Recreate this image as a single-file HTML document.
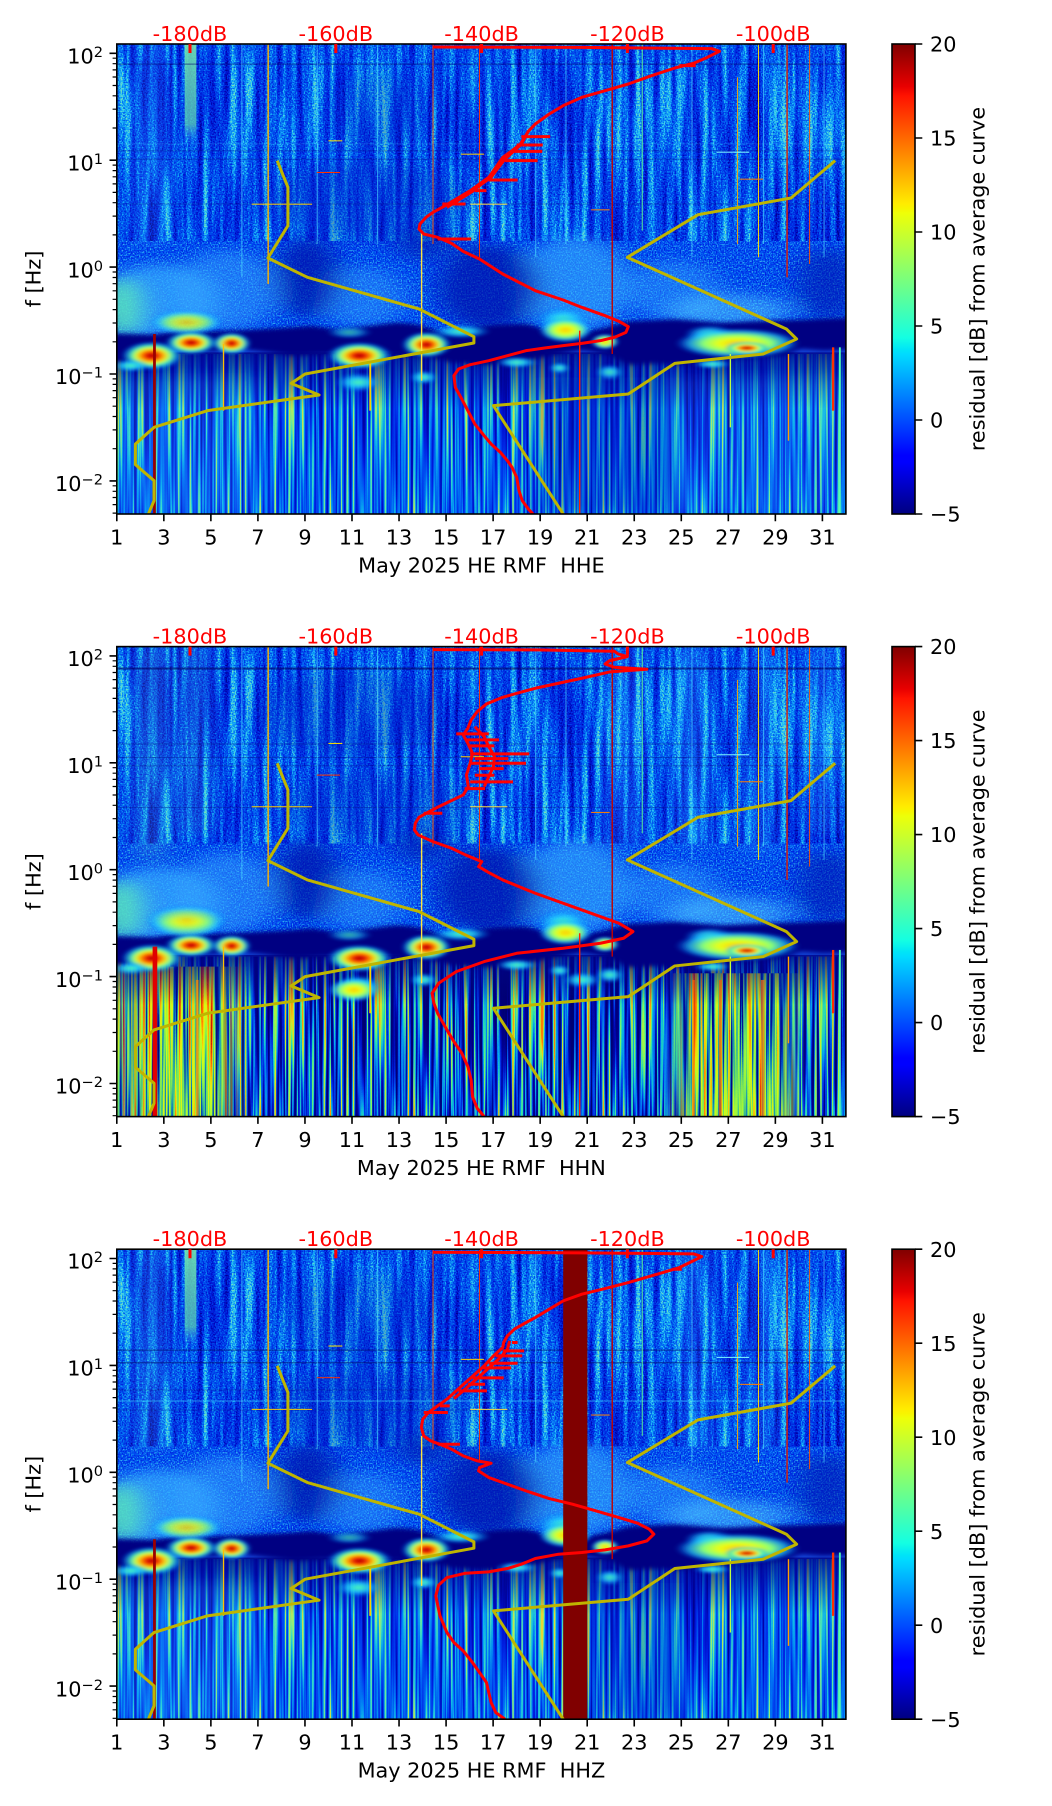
<!DOCTYPE html>
<html><head><meta charset="utf-8">
<style>html,body{margin:0;padding:0;background:#fff;}svg{display:block}</style>
</head><body>
<svg xmlns="http://www.w3.org/2000/svg" xmlns:xlink="http://www.w3.org/1999/xlink" width="1052" height="1806" viewBox="0 0 1052 1806" font-family="'DejaVu Sans','Liberation Sans',sans-serif" font-size="20.8">
<defs>
<linearGradient id="jet" x1="0" y1="1" x2="0" y2="0">
<stop offset="0" stop-color="#000080"/><stop offset="0.11" stop-color="#0000ff"/><stop offset="0.125" stop-color="#0000ff"/>
<stop offset="0.34" stop-color="#00dbff"/><stop offset="0.35" stop-color="#00e5f7"/><stop offset="0.375" stop-color="#14ffe2"/>
<stop offset="0.64" stop-color="#eeff08"/><stop offset="0.65" stop-color="#f7f500"/><stop offset="0.66" stop-color="#ffec00"/>
<stop offset="0.89" stop-color="#ff1300"/><stop offset="0.91" stop-color="#e80000"/><stop offset="1" stop-color="#800000"/>
</linearGradient>
<linearGradient id="gStripe" x1="0" y1="0" x2="0" y2="1">
<stop offset="0" stop-color="#78e8a8" stop-opacity=".85"/><stop offset=".8" stop-color="#60d8b0" stop-opacity=".7"/><stop offset="1" stop-color="#40c0ff" stop-opacity="0"/>
</linearGradient>
<linearGradient id="vgDark" x1="0" y1="0" x2="0" y2="1">
<stop offset="0" stop-color="#000488" stop-opacity=".8"/><stop offset=".5" stop-color="#000488" stop-opacity=".4"/><stop offset="1" stop-color="#000488" stop-opacity="0"/>
</linearGradient>
<linearGradient id="hgL" x1="0" y1="0" x2="1" y2="0">
<stop offset="0" stop-color="#fff" stop-opacity=".55"/><stop offset=".25" stop-color="#fff"/><stop offset=".75" stop-color="#fff"/><stop offset="1" stop-color="#fff" stop-opacity="0"/>
</linearGradient>
<linearGradient id="hgR" x1="0" y1="0" x2="1" y2="0">
<stop offset="0" stop-color="#fff" stop-opacity="0"/><stop offset=".2" stop-color="#fff"/><stop offset=".8" stop-color="#fff"/><stop offset="1" stop-color="#fff" stop-opacity="0"/>
</linearGradient>
<radialGradient id="gR">
<stop offset="0" stop-color="#a00000"/><stop offset=".2" stop-color="#f01800"/><stop offset=".36" stop-color="#ffa000"/>
<stop offset=".52" stop-color="#d8ff30"/><stop offset=".68" stop-color="#40ffc0" stop-opacity=".9"/>
<stop offset=".85" stop-color="#10a8ff" stop-opacity=".5"/><stop offset="1" stop-color="#0060ff" stop-opacity="0"/>
</radialGradient>
<radialGradient id="gY">
<stop offset="0" stop-color="#ffc800"/><stop offset=".3" stop-color="#e8ff18"/><stop offset=".55" stop-color="#88ff78"/>
<stop offset=".78" stop-color="#20d0ff" stop-opacity=".7"/><stop offset="1" stop-color="#0060ff" stop-opacity="0"/>
</radialGradient>
<radialGradient id="gC">
<stop offset="0" stop-color="#50ffb0"/><stop offset=".45" stop-color="#20d0ff" stop-opacity=".85"/><stop offset="1" stop-color="#0070ff" stop-opacity="0"/>
</radialGradient>

<filter id="fUp" x="0" y="0" width="1" height="1" color-interpolation-filters="sRGB">
<feTurbulence type="fractalNoise" baseFrequency="0.35 0.22" numOctaves="1" seed="3"/>
<feColorMatrix type="matrix" values="1 0 0 0 0 1 0 0 0 0 1 0 0 0 0 0 0 0 0 1" result="sp"/>
<feTurbulence type="fractalNoise" baseFrequency="0.07 0.0025" numOctaves="2" seed="8"/>
<feColorMatrix type="matrix" values="1 0 0 0 0 1 0 0 0 0 1 0 0 0 0 0 0 0 0 1" result="st"/>
<feComposite in="sp" in2="st" operator="arithmetic" k1="0" k2="1" k3="1.2" k4="-0.6"/>
<feComponentTransfer>
<feFuncR type="table" tableValues="0 0 0 0 0 0 0.02 0.05 0.12 0.3 0.5"/>
<feFuncG type="table" tableValues="0 0.02 0.06 0.13 0.21 0.3 0.42 0.58 0.74 0.84 0.88"/>
<feFuncB type="table" tableValues="0.55 0.68 0.8 0.87 0.9 0.93 0.95 0.97 0.97 0.9 0.7"/>
<feFuncA type="table" tableValues="1 1"/>
</feComponentTransfer>
</filter>
<filter id="fMid" x="0" y="0" width="1" height="1" color-interpolation-filters="sRGB">
<feTurbulence type="fractalNoise" baseFrequency="0.35 0.22" numOctaves="1" seed="5"/>
<feColorMatrix type="matrix" values="1.4 0 0 0 -0.2 1.4 0 0 0 -0.2 1.4 0 0 0 -0.2 0 0 0 0 1"/>
<feComponentTransfer>
<feFuncR type="table" tableValues="0 0 0 0 0 0 0.02 0.08 0.2 0.35 0.5"/>
<feFuncG type="table" tableValues="0.05 0.08 0.12 0.17 0.23 0.3 0.4 0.52 0.65 0.78 0.88"/>
<feFuncB type="table" tableValues="0.75 0.82 0.87 0.9 0.93 0.94 0.95 0.96 0.95 0.9 0.8"/>
</feComponentTransfer>
</filter>
<filter id="fLo" x="0" y="0" width="1" height="1" color-interpolation-filters="sRGB">
<feTurbulence type="fractalNoise" baseFrequency="0.16 0.0015" numOctaves="2" seed="11"/>
<feColorMatrix type="matrix" values="1.7 0 0 0 -0.33 1.7 0 0 0 -0.33 1.7 0 0 0 -0.33 0 0 0 0 1"/>
<feComponentTransfer>
<feFuncR type="table" tableValues="0 0 0 0 0 0 0 0.05 0.25 0.6 0.9"/>
<feFuncG type="table" tableValues="0 0.02 0.06 0.12 0.22 0.34 0.5 0.7 0.88 0.95 0.85"/>
<feFuncB type="table" tableValues="0.55 0.68 0.8 0.88 0.93 0.95 0.96 0.92 0.75 0.45 0.2"/>
</feComponentTransfer>
</filter>
<filter id="fLo2" x="0" y="0" width="1" height="1" color-interpolation-filters="sRGB">
<feTurbulence type="fractalNoise" baseFrequency="0.16 0.0015" numOctaves="2" seed="11"/>
<feColorMatrix type="matrix" values="2 0 0 0 -0.55 2 0 0 0 -0.55 2 0 0 0 -0.55 0 0 0 0 1"/>
<feComponentTransfer>
<feFuncR type="table" tableValues="0 0 0 0 0 0 0.03 0.2 0.6 0.95 1"/>
<feFuncG type="table" tableValues="0 0 0 0.03 0.15 0.4 0.7 0.9 0.98 0.85 0.5"/>
<feFuncB type="table" tableValues="0.45 0.5 0.56 0.7 0.88 0.95 0.9 0.65 0.3 0.08 0"/>
</feComponentTransfer>
</filter>
<filter id="fLo2b" x="0" y="0" width="1" height="1" color-interpolation-filters="sRGB">
<feTurbulence type="fractalNoise" baseFrequency="0.16 0.0015" numOctaves="2" seed="13"/>
<feColorMatrix type="matrix" values="2 0 0 0 -0.55 2 0 0 0 -0.55 2 0 0 0 -0.55 0 0 0 0 1"/>
<feComponentTransfer>
<feFuncR type="table" tableValues="0 0 0 0.1 0.35 0.6 0.8 0.95 1 1 0.8"/>
<feFuncG type="table" tableValues="0 0.05 0.3 0.6 0.85 0.97 1 0.9 0.65 0.35 0.1"/>
<feFuncB type="table" tableValues="0.5 0.6 0.75 0.7 0.45 0.25 0.1 0.02 0 0 0"/>
</feComponentTransfer>
</filter>
<filter id="bl1" x="-0.5" y="-0.5" width="2" height="2"><feGaussianBlur stdDeviation="28 18"/></filter>
<filter id="bl2" x="-0.1" y="-0.4" width="1.2" height="1.8"><feGaussianBlur stdDeviation="8 6"/></filter>
<filter id="bl3" x="-0.3" y="-0.3" width="1.6" height="1.6"><feGaussianBlur stdDeviation="5 4"/></filter>

<mask id="mB" maskUnits="userSpaceOnUse" x="0" y="0" width="1568" height="1410">
 <rect x="0" y="960" width="280" height="450" fill="url(#hgL)"/>
 <rect x="1180" y="980" width="300" height="430" fill="url(#hgR)"/>
</mask>

<g id="mid">
 <g filter="url(#bl1)">
  <ellipse cx="90" cy="770" rx="130" ry="110" fill="#38b0ff" opacity=".7"/>
  <ellipse cx="10" cy="790" rx="45" ry="90" fill="#60f0b0" opacity=".75"/>
  <ellipse cx="235" cy="740" rx="110" ry="120" fill="#38a8ff" opacity=".5"/>
  <ellipse cx="530" cy="760" rx="90" ry="90" fill="#38a8ff" opacity=".45"/>
  <ellipse cx="985" cy="720" rx="120" ry="140" fill="#38b0ff" opacity=".6"/>
  <ellipse cx="1200" cy="740" rx="100" ry="90" fill="#38a8ff" opacity=".45"/>
  <ellipse cx="1320" cy="800" rx="130" ry="50" fill="#50c8ff" opacity=".55"/>
  <ellipse cx="410" cy="700" rx="70" ry="120" fill="#0614a8" opacity=".7"/>
  <ellipse cx="800" cy="730" rx="110" ry="130" fill="#0614a8" opacity=".7"/>
  <ellipse cx="660" cy="600" rx="60" ry="50" fill="#0614a8" opacity=".55"/>
  <ellipse cx="1530" cy="720" rx="70" ry="110" fill="#0614a8" opacity=".55"/>
 </g>
 <polygon filter="url(#bl2)" fill="#000482" points="-40,868 80,872 130,862 200,862 280,858 360,852 420,846 470,856 520,850 600,836 640,840 700,864 760,852 820,842 880,840 930,858 1000,866 1060,848 1100,832 1200,826 1300,836 1400,830 1460,828 1608,820 1608,915 1520,920 1470,914 1440,932 1300,946 1220,960 1150,958 1100,962 1060,932 1000,918 930,935 880,948 800,962 720,955 680,940 600,934 560,925 450,930 380,935 320,924 270,914 220,920 170,924 120,916 100,928 30,952 -40,952"/>
 <g filter="url(#bl3)">
  <ellipse cx="150" cy="835" rx="80" ry="38" fill="url(#gY)" opacity=".8"/>
  <ellipse cx="740" cy="862" rx="65" ry="22" fill="url(#gC)"/>
  <ellipse cx="500" cy="865" rx="50" ry="20" fill="url(#gC)" opacity=".7"/>
  <ellipse cx="960" cy="830" rx="60" ry="45" fill="url(#gC)"/>
  <ellipse cx="1275" cy="870" rx="55" ry="28" fill="url(#gC)"/>
  <ellipse cx="75" cy="935" rx="66" ry="44" fill="url(#gR)"/>
  <ellipse cx="160" cy="896" rx="56" ry="36" fill="url(#gR)"/>
  <ellipse cx="247" cy="898" rx="42" ry="34" fill="url(#gR)"/>
  <ellipse cx="522" cy="935" rx="70" ry="42" fill="url(#gR)"/>
  <ellipse cx="666" cy="902" rx="54" ry="40" fill="url(#gR)"/>
  <ellipse cx="965" cy="858" rx="58" ry="38" fill="url(#gY)"/>
  <ellipse cx="1050" cy="893" rx="30" ry="24" fill="url(#gY)"/>
  <ellipse cx="1335" cy="898" rx="135" ry="46" fill="url(#gY)"/>
  <ellipse cx="1355" cy="912" rx="48" ry="20" fill="url(#gR)"/>
  <ellipse cx="860" cy="955" rx="45" ry="18" fill="url(#gC)"/>
  <ellipse cx="952" cy="972" rx="22" ry="18" fill="url(#gC)"/>
  <ellipse cx="520" cy="1015" rx="50" ry="30" fill="url(#gC)"/>
  <ellipse cx="660" cy="1000" rx="30" ry="22" fill="url(#gC)"/>
  <ellipse cx="30" cy="965" rx="40" ry="20" fill="url(#gC)"/>
  <ellipse cx="1060" cy="985" rx="30" ry="25" fill="url(#gC)"/>
  <ellipse cx="1280" cy="960" rx="40" ry="15" fill="url(#gC)"/>
 </g>
</g>

<g id="vlines">
 <rect x="324" y="0" width="3" height="720" fill="#ffb000"/>
 <rect x="654" y="560" width="3" height="450" fill="#ffe040"/>
 <rect x="679" y="0" width="2" height="600" fill="#ff5000"/>
 <rect x="779" y="0" width="2" height="640" fill="#ff3000"/>
 <rect x="994" y="860" width="3" height="550" fill="#ff2000"/>
 <rect x="1064" y="0" width="3" height="930" fill="#c00000"/>
 <rect x="1129" y="0" width="2" height="560" fill="#60ff90"/>
 <rect x="1334" y="100" width="2" height="500" fill="#ffa000"/>
 <rect x="1379" y="0" width="2" height="640" fill="#ffe000"/>
 <rect x="1440" y="0" width="3" height="700" fill="#e02000"/>
 <rect x="1489" y="0" width="2" height="660" fill="#ff5000"/>
 <rect x="1538" y="910" width="5" height="190" fill="#ff3000"/>
 <rect x="1553" y="910" width="4" height="500" fill="#50ffb0"/>
 <rect x="228" y="900" width="3" height="200" fill="#ffc000"/>
 <rect x="543" y="950" width="4" height="150" fill="#ffd000"/>
 <rect x="1443" y="930" width="3" height="260" fill="#ffa000"/>
 <rect x="1318" y="930" width="3" height="220" fill="#c0ff40"/>
 <g fill="#50e0ff" opacity=".7">
  <rect x="268" y="0" width="2" height="700"/><rect x="430" y="0" width="2" height="600"/>
  <rect x="560" y="0" width="2" height="600"/><rect x="900" y="0" width="2" height="640"/>
  <rect x="965" y="0" width="2" height="600"/><rect x="1236" y="0" width="2" height="640"/>
  <rect x="1390" y="0" width="2" height="600"/><rect x="1520" y="0" width="2" height="640"/>
 </g>
 <rect x="290" y="479" width="130" height="3" fill="#ffd000"/>
 <rect x="430" y="384" width="50" height="3" fill="#ff3000"/>
 <rect x="760" y="479" width="80" height="3" fill="#ffe040"/>
 <rect x="740" y="329" width="50" height="3" fill="#ffd000"/>
 <rect x="1340" y="404" width="50" height="3" fill="#ff8000"/>
 <rect x="1020" y="496" width="40" height="3" fill="#ff8000"/>
 <rect x="455" y="289" width="30" height="3" fill="#ffe000"/>
 <rect x="1290" y="323" width="70" height="3" fill="#80ffff"/>
</g>

<g id="yel" fill="none" stroke="#bfb500" stroke-width="3" stroke-linejoin="round">
 <polyline vector-effect="non-scaling-stroke" points="345,350 368,430 368,545 325,642 410,700 650,795 768,878 768,897 405,990 375,1018 435,1053 195,1100 80,1150 40,1200 40,1262 80,1310 80,1370 68,1410"/>
 <polyline vector-effect="non-scaling-stroke" points="1545,350 1450,462 1250,512 1098,640 1440,855 1462,885 1390,930 1200,958 1100,1050 810,1085 960,1410"/>
</g>

<g id="deco">
 <path stroke="#000" stroke-width="1.6" d="M116.8 470v7.3M163.84 470v7.3M210.88 470v7.3M257.92 470v7.3M304.96 470v7.3M352 470v7.3M399.04 470v7.3M446.08 470v7.3M493.12 470v7.3M540.16 470v7.3M587.2 470v7.3M634.24 470v7.3M681.28 470v7.3M728.32 470v7.3M775.36 470v7.3M822.4 470v7.3M116.8 9.3h-7.3M116.8 116.2h-7.3M116.8 223.1h-7.3M116.8 330h-7.3M116.8 436.9h-7.3"/>
 <path stroke="#000" stroke-width="1.2" d="M116.8 14.2h-4.2M116.8 19.7h-4.2M116.8 25.9h-4.2M116.8 33h-4.2M116.8 41.5h-4.2M116.8 51.8h-4.2M116.8 65.2h-4.2M116.8 84h-4.2M116.8 121.1h-4.2M116.8 126.6h-4.2M116.8 132.8h-4.2M116.8 139.9h-4.2M116.8 148.4h-4.2M116.8 158.7h-4.2M116.8 172.1h-4.2M116.8 190.9h-4.2M116.8 228h-4.2M116.8 233.5h-4.2M116.8 239.7h-4.2M116.8 246.8h-4.2M116.8 255.3h-4.2M116.8 265.6h-4.2M116.8 279h-4.2M116.8 297.8h-4.2M116.8 334.9h-4.2M116.8 340.4h-4.2M116.8 346.6h-4.2M116.8 353.7h-4.2M116.8 362.2h-4.2M116.8 372.5h-4.2M116.8 385.9h-4.2M116.8 404.7h-4.2M116.8 441.8h-4.2M116.8 447.3h-4.2M116.8 453.5h-4.2M116.8 460.6h-4.2M116.8 469.1h-4.2"/>
 <rect x="116.8" y="0" width="729.1" height="470" fill="none" stroke="#000" stroke-width="1.6"/>
 <rect x="892" y="0" width="23" height="470" fill="url(#jet)" stroke="#000" stroke-width="1.6"/>
 <path stroke="#000" stroke-width="1.6" d="M915 0h7.3M915 94h7.3M915 188h7.3M915 282h7.3M915 376h7.3M915 470h7.3"/>
 <path stroke="#ff0000" stroke-width="3" d="M190 0v9M335.8 0v9M481.6 0v9M627.4 0v9M773.2 0v9"/>
</g>
</defs>

<!-- ================= PLOT 1 ================= -->
<svg x="116.8" y="44" width="729.1" height="470" viewBox="0 0 1568 1410" preserveAspectRatio="none">
 <rect width="1568" height="1410" fill="#1446dc"/>
 <rect width="1568" height="598" filter="url(#fUp)"/>
 <rect y="592" width="1568" height="300" filter="url(#fMid)"/>
 <rect y="930" width="1568" height="480" filter="url(#fLo)"/>
 <rect y="925" width="1568" height="170" fill="url(#vgDark)"/>
 <g filter="url(#bl1)">
  <ellipse cx="540" cy="470" rx="210" ry="120" fill="#0a22c0" opacity=".35"/>
  <ellipse cx="560" cy="200" rx="100" ry="120" fill="#0a22c0" opacity=".25"/>
  <rect x="55" y="0" width="40" height="600" fill="#40c0ff" opacity=".28"/>
 </g>
 <rect x="146" y="0" width="25" height="300" fill="url(#gStripe)"/>
 <use xlink:href="#mid"/>
 <g filter="url(#bl1)">
  <rect x="900" y="1000" width="300" height="410" fill="#0018b0" opacity=".3"/>
  <rect x="0" y="1000" width="300" height="410" fill="#40d8ff" opacity=".15"/>
  <rect x="1200" y="1000" width="368" height="410" fill="#40d8ff" opacity=".1"/>
 </g>
 <rect x="0" y="58" width="1568" height="4" fill="#000070" opacity=".45"/>
 <rect x="0" y="319" width="1568" height="3" fill="#001890" opacity=".4"/>
 <rect x="0" y="344" width="1568" height="3" fill="#001890" opacity=".4"/>
 <rect x="0" y="479" width="1568" height="3" fill="#001890" opacity=".35"/>
 <rect x="0" y="298" width="1568" height="3" fill="#40c0ff" opacity=".3"/>
 <rect x="78" y="870" width="6" height="540" fill="#9a0000"/>
 <use xlink:href="#vlines"/>
 <use xlink:href="#yel"/>
 <g fill="none" stroke="#ff0000" stroke-width="3" stroke-linejoin="round">
  <polyline vector-effect="non-scaling-stroke" points="680,9 1000,10 1280,14 1296,22 1270,40 1240,58 1200,72 1150,95 1100,120 1050,140 1000,160 960,185 930,210 900,240 885,262 875,285 868,300 850,320 830,340 815,370 800,400 780,420 760,440 730,465 700,490 680,505 665,520 652,540 650,555 660,570 690,580 720,598 745,622 780,645 830,690 900,740 960,768 1000,790 1050,815 1080,832 1100,848 1095,865 1070,880 1040,890 1000,898 960,905 920,912 880,920 840,935 800,950 760,962 735,975 725,995 728,1030 740,1060 755,1100 770,1140 790,1175 805,1200 825,1225 840,1250 850,1270 860,1300 865,1340 872,1370 885,1395 895,1410"/>
  <polyline vector-effect="non-scaling-stroke" points="880,275 870,300 855,320 835,345 820,372 805,400 785,420 765,442 735,468 710,490"/>
  <path vector-effect="non-scaling-stroke" d="M870 278H932M860 303H916M850 322H915M835 350H905M800 408H862M770 440H795M700 480H750M690 585H762M1210 65H1245"/>
 </g>
</svg>
<use xlink:href="#deco" transform="translate(0,44)"/>
<g transform="translate(0,44)">
 <g text-anchor="middle" fill="#000">
  <text x="116.8" y="500.3">1</text><text x="163.84" y="500.3">3</text><text x="210.88" y="500.3">5</text><text x="257.92" y="500.3">7</text>
  <text x="304.96" y="500.3">9</text><text x="352" y="500.3">11</text><text x="399.04" y="500.3">13</text><text x="446.08" y="500.3">15</text>
  <text x="493.12" y="500.3">17</text><text x="540.16" y="500.3">19</text><text x="587.2" y="500.3">21</text><text x="634.24" y="500.3">23</text>
  <text x="681.28" y="500.3">25</text><text x="728.32" y="500.3">27</text><text x="775.36" y="500.3">29</text><text x="822.4" y="500.3">31</text>
 </g>
 <g text-anchor="end" fill="#000">
  <text x="103" y="19.5">10<tspan font-size="14.6" dy="-6.5">2</tspan></text>
  <text x="103" y="126.4">10<tspan font-size="14.6" dy="-6.5">1</tspan></text>
  <text x="103" y="233.3">10<tspan font-size="14.6" dy="-6.5">0</tspan></text>
  <text x="103" y="340.2">10<tspan font-size="14.6" dy="-6.5">−1</tspan></text>
  <text x="103" y="447.1">10<tspan font-size="14.6" dy="-6.5">−2</tspan></text>
 </g>
 <g text-anchor="middle" fill="#ff0000">
  <text x="190" y="-3.1">-180dB</text><text x="335.8" y="-3.1">-160dB</text><text x="481.6" y="-3.1">-140dB</text><text x="627.4" y="-3.1">-120dB</text><text x="773.2" y="-3.1">-100dB</text>
 </g>
 <g fill="#000">
  <text x="930" y="7.6">20</text><text x="930" y="101.6">15</text><text x="930" y="195.6">10</text><text x="930" y="289.6">5</text><text x="930" y="383.6">0</text><text x="930" y="477.6">−5</text>
 </g>
 <text transform="translate(984.6,235) rotate(-90)" text-anchor="middle">residual [dB] from average curve</text>
 <text transform="translate(40.6,235) rotate(-90)" text-anchor="middle">f [Hz]</text>
 <text x="481.4" y="528.5" text-anchor="middle" style="white-space:pre">May 2025 HE RMF  HHE</text>
</g>

<!-- ================= PLOT 2 ================= -->
<svg x="116.8" y="646.6" width="729.1" height="470" viewBox="0 0 1568 1410" preserveAspectRatio="none">
 <rect width="1568" height="1410" fill="#1244d8"/>
 <rect width="1568" height="598" filter="url(#fUp)"/>
 <rect y="592" width="1568" height="300" filter="url(#fMid)"/>
 <rect y="930" width="1568" height="480" filter="url(#fLo2)"/>
 <rect y="950" width="1568" height="460" filter="url(#fLo2b)" mask="url(#mB)"/>
 <rect y="925" width="1568" height="150" fill="url(#vgDark)"/>
 <g filter="url(#bl1)">
  <ellipse cx="500" cy="200" rx="200" ry="130" fill="#0a22c0" opacity=".35"/>
  <ellipse cx="560" cy="480" rx="200" ry="110" fill="#0a22c0" opacity=".3"/>
  <rect x="55" y="0" width="40" height="640" fill="#60e0c0" opacity=".35"/>
  <rect x="150" y="0" width="35" height="560" fill="#60e0c0" opacity=".3"/>
  <rect x="1215" y="0" width="45" height="600" fill="#40d0ff" opacity=".3"/>
  <rect x="1365" y="0" width="35" height="620" fill="#40d0ff" opacity=".3"/>
  <rect x="1495" y="0" width="45" height="560" fill="#40d0ff" opacity=".25"/>
  <rect x="1060" y="0" width="60" height="600" fill="#40c0ff" opacity=".2"/>
 </g>
 <use xlink:href="#mid"/>
 <g filter="url(#bl3)">
  <ellipse cx="510" cy="1030" rx="55" ry="36" fill="url(#gY)"/>
  <ellipse cx="150" cy="820" rx="90" ry="45" fill="url(#gY)" opacity=".7"/>
  <ellipse cx="1000" cy="1000" rx="40" ry="25" fill="url(#gC)"/>
 </g>
 <rect x="0" y="63" width="1568" height="6" fill="#000060" opacity=".6"/>
 <rect x="0" y="291" width="1568" height="3" fill="#001890" opacity=".45"/>
 <rect x="0" y="331" width="1568" height="3" fill="#001890" opacity=".45"/>
 <rect x="0" y="356" width="1568" height="3" fill="#001890" opacity=".4"/>
 <rect x="0" y="481" width="1568" height="3" fill="#001890" opacity=".4"/>
 <rect x="77" y="900" width="10" height="510" fill="#e00000"/>
 <rect x="170" y="1000" width="6" height="410" fill="#ff8000" opacity=".7"/>
 <rect x="1238" y="1000" width="5" height="410" fill="#ff6000" opacity=".7"/>
 <rect x="1295" y="1000" width="6" height="410" fill="#ff5000" opacity=".7"/>
 <rect x="1385" y="1000" width="8" height="410" fill="#ff7000" opacity=".7"/>
 <use xlink:href="#vlines"/>
 <use xlink:href="#yel"/>
 <g fill="none" stroke="#ff0000" stroke-width="3" stroke-linejoin="round">
  <polyline vector-effect="non-scaling-stroke" points="680,9 900,10 1070,14 1078,22 1098,30 1060,42 1050,52 1070,62 1140,68 1060,76 1000,95 950,110 900,125 860,140 830,152 795,172 775,195 762,220 755,245 745,265 755,290 765,320 760,350 752,385 756,420 745,445 715,465 690,482 668,498 650,512 642,530 640,550 648,565 680,585 720,605 750,625 785,645 778,660 800,678 830,700 900,740 1000,790 1080,830 1110,855 1090,875 1040,890 960,905 860,920 790,945 730,975 692,1010 678,1040 682,1070 690,1100 710,1150 725,1185 742,1220 755,1260 762,1300 765,1350 775,1385 790,1410"/>
  <polyline vector-effect="non-scaling-stroke" points="770,240 790,270 800,300 812,330 810,360 800,390 790,420"/>
  <path vector-effect="non-scaling-stroke" d="M730 262H800M750 280H822M755 298H812M760 322H887M770 336H842M760 350H880M780 366H832M770 386H812M760 406H852M748 426H792M660 500H700"/>
 </g>
</svg>
<use xlink:href="#deco" transform="translate(0,646.6)"/>
<g transform="translate(0,646.6)">
 <g text-anchor="middle" fill="#000">
  <text x="116.8" y="500.3">1</text><text x="163.84" y="500.3">3</text><text x="210.88" y="500.3">5</text><text x="257.92" y="500.3">7</text>
  <text x="304.96" y="500.3">9</text><text x="352" y="500.3">11</text><text x="399.04" y="500.3">13</text><text x="446.08" y="500.3">15</text>
  <text x="493.12" y="500.3">17</text><text x="540.16" y="500.3">19</text><text x="587.2" y="500.3">21</text><text x="634.24" y="500.3">23</text>
  <text x="681.28" y="500.3">25</text><text x="728.32" y="500.3">27</text><text x="775.36" y="500.3">29</text><text x="822.4" y="500.3">31</text>
 </g>
 <g text-anchor="end" fill="#000">
  <text x="103" y="19.5">10<tspan font-size="14.6" dy="-6.5">2</tspan></text>
  <text x="103" y="126.4">10<tspan font-size="14.6" dy="-6.5">1</tspan></text>
  <text x="103" y="233.3">10<tspan font-size="14.6" dy="-6.5">0</tspan></text>
  <text x="103" y="340.2">10<tspan font-size="14.6" dy="-6.5">−1</tspan></text>
  <text x="103" y="447.1">10<tspan font-size="14.6" dy="-6.5">−2</tspan></text>
 </g>
 <g text-anchor="middle" fill="#ff0000">
  <text x="190" y="-3.1">-180dB</text><text x="335.8" y="-3.1">-160dB</text><text x="481.6" y="-3.1">-140dB</text><text x="627.4" y="-3.1">-120dB</text><text x="773.2" y="-3.1">-100dB</text>
 </g>
 <g fill="#000">
  <text x="930" y="7.6">20</text><text x="930" y="101.6">15</text><text x="930" y="195.6">10</text><text x="930" y="289.6">5</text><text x="930" y="383.6">0</text><text x="930" y="477.6">−5</text>
 </g>
 <text transform="translate(984.6,235) rotate(-90)" text-anchor="middle">residual [dB] from average curve</text>
 <text transform="translate(40.6,235) rotate(-90)" text-anchor="middle">f [Hz]</text>
 <text x="481.4" y="528.5" text-anchor="middle" style="white-space:pre">May 2025 HE RMF  HHN</text>
</g>

<!-- ================= PLOT 3 ================= -->
<svg x="116.8" y="1249.2" width="729.1" height="470" viewBox="0 0 1568 1410" preserveAspectRatio="none">
 <rect width="1568" height="1410" fill="#1446dc"/>
 <rect width="1568" height="598" filter="url(#fUp)"/>
 <rect y="592" width="1568" height="300" filter="url(#fMid)"/>
 <rect y="930" width="1568" height="480" filter="url(#fLo)"/>
 <rect y="925" width="1568" height="170" fill="url(#vgDark)"/>
 <g filter="url(#bl1)">
  <ellipse cx="540" cy="470" rx="210" ry="120" fill="#0a22c0" opacity=".35"/>
  <ellipse cx="520" cy="200" rx="160" ry="130" fill="#0a22c0" opacity=".25"/>
  <rect x="55" y="0" width="40" height="600" fill="#50d0e0" opacity=".32"/>
  <rect x="1225" y="0" width="40" height="600" fill="#40c8ff" opacity=".25"/>
  <rect x="1370" y="0" width="40" height="600" fill="#40c8ff" opacity=".25"/>
 </g>
 <rect x="146" y="0" width="25" height="290" fill="url(#gStripe)"/>
 <use xlink:href="#mid"/>
 <g filter="url(#bl1)">
  <rect x="1020" y="1000" width="200" height="410" fill="#0018b0" opacity=".25"/>
  <rect x="0" y="1000" width="300" height="410" fill="#40d8ff" opacity=".15"/>
 </g>
 <rect x="0" y="301" width="1568" height="4" fill="#001070" opacity=".5"/>
 <rect x="0" y="339" width="1568" height="4" fill="#001070" opacity=".5"/>
 <rect x="0" y="421" width="1568" height="3" fill="#001890" opacity=".35"/>
 <rect x="0" y="454" width="1568" height="3" fill="#40e0ff" opacity=".55"/>
 <rect x="0" y="481" width="1568" height="3" fill="#001890" opacity=".35"/>
 <rect x="78" y="870" width="6" height="540" fill="#9a0000"/>
 <use xlink:href="#vlines"/>
 <rect x="960" y="0" width="52" height="1410" fill="#800000"/>
 <use xlink:href="#yel"/>
 <g fill="none" stroke="#ff0000" stroke-width="3" stroke-linejoin="round">
  <polyline vector-effect="non-scaling-stroke" points="680,9 1000,11 1240,14 1258,22 1235,38 1210,55 1150,80 1100,100 1050,118 1000,135 960,155 930,180 900,205 880,220 855,240 840,260 832,280 830,295 810,320 790,350 770,375 750,400 730,425 710,450 690,470 670,490 658,510 655,535 660,560 675,575 700,588 720,600 745,620 775,635 805,642 780,655 778,665 800,685 840,705 880,725 930,748 980,765 1030,785 1080,805 1120,822 1145,840 1155,855 1140,875 1100,890 1050,902 1000,910 950,915 900,928 870,945 840,958 800,968 750,972 710,985 692,1008 686,1040 695,1100 710,1150 725,1180 745,1205 765,1240 780,1270 795,1300 800,1330 805,1360 815,1390 835,1410"/>
  <polyline vector-effect="non-scaling-stroke" points="845,275 840,300 825,325 805,350 785,375 765,400 745,425 725,448"/>
  <path vector-effect="non-scaling-stroke" d="M850 280H862M830 305H876M815 320H872M800 342H862M785 356H848M765 386H832M755 405H792M735 425H796M695 470H716M660 490H712M690 585H738M1195 60H1215"/>
 </g>
</svg>
<use xlink:href="#deco" transform="translate(0,1249.2)"/>
<g transform="translate(0,1249.2)">
 <g text-anchor="middle" fill="#000">
  <text x="116.8" y="500.3">1</text><text x="163.84" y="500.3">3</text><text x="210.88" y="500.3">5</text><text x="257.92" y="500.3">7</text>
  <text x="304.96" y="500.3">9</text><text x="352" y="500.3">11</text><text x="399.04" y="500.3">13</text><text x="446.08" y="500.3">15</text>
  <text x="493.12" y="500.3">17</text><text x="540.16" y="500.3">19</text><text x="587.2" y="500.3">21</text><text x="634.24" y="500.3">23</text>
  <text x="681.28" y="500.3">25</text><text x="728.32" y="500.3">27</text><text x="775.36" y="500.3">29</text><text x="822.4" y="500.3">31</text>
 </g>
 <g text-anchor="end" fill="#000">
  <text x="103" y="19.5">10<tspan font-size="14.6" dy="-6.5">2</tspan></text>
  <text x="103" y="126.4">10<tspan font-size="14.6" dy="-6.5">1</tspan></text>
  <text x="103" y="233.3">10<tspan font-size="14.6" dy="-6.5">0</tspan></text>
  <text x="103" y="340.2">10<tspan font-size="14.6" dy="-6.5">−1</tspan></text>
  <text x="103" y="447.1">10<tspan font-size="14.6" dy="-6.5">−2</tspan></text>
 </g>
 <g text-anchor="middle" fill="#ff0000">
  <text x="190" y="-3.1">-180dB</text><text x="335.8" y="-3.1">-160dB</text><text x="481.6" y="-3.1">-140dB</text><text x="627.4" y="-3.1">-120dB</text><text x="773.2" y="-3.1">-100dB</text>
 </g>
 <g fill="#000">
  <text x="930" y="7.6">20</text><text x="930" y="101.6">15</text><text x="930" y="195.6">10</text><text x="930" y="289.6">5</text><text x="930" y="383.6">0</text><text x="930" y="477.6">−5</text>
 </g>
 <text transform="translate(984.6,235) rotate(-90)" text-anchor="middle">residual [dB] from average curve</text>
 <text transform="translate(40.6,235) rotate(-90)" text-anchor="middle">f [Hz]</text>
 <text x="481.4" y="528.5" text-anchor="middle" style="white-space:pre">May 2025 HE RMF  HHZ</text>
</g>
</svg>
</body></html>
